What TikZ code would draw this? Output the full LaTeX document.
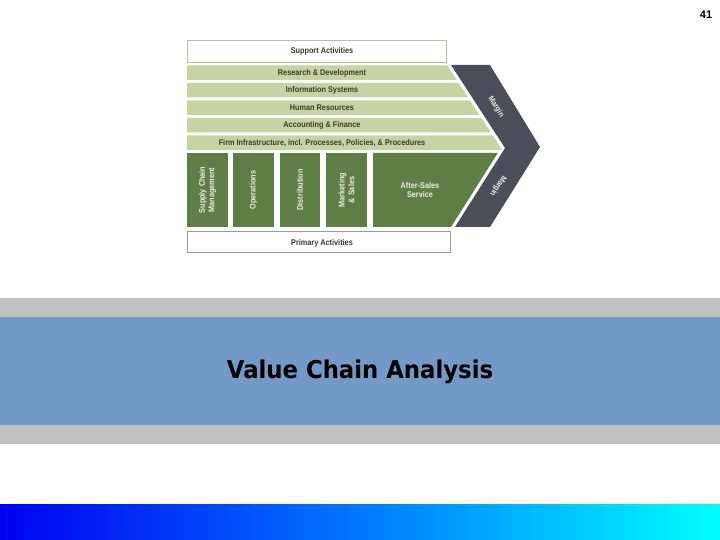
\documentclass[tikz,border=0pt]{standalone}
\usepackage{fontspec}
\setmainfont{Liberation Sans}
\newfontfamily\cond[FakeStretch=0.88]{Liberation Sans}
\newfontfamily\titlefont[FakeStretch=0.93]{DejaVu Sans}
\definecolor{lightg}{HTML}{C6D4A4}
\definecolor{darkg}{HTML}{5F7E45}
\definecolor{margc}{HTML}{4A4E58}
\definecolor{bandgrey}{HTML}{C0C0C0}
\definecolor{bandblue}{HTML}{7399C6}
\definecolor{lbltxt}{HTML}{3A3A30}
\definecolor{wtxt}{HTML}{EEEEE6}
\tikzset{
  sbar/.style={fill=lightg, draw=none},
  pbox/.style={fill=darkg, draw=none},
  slbl/.style={font=\cond\bfseries\fontsize{8.3}{9}\selectfont, text=lbltxt, inner sep=0pt},
  plbl/.style={font=\cond\bfseries\fontsize{8.3}{9.6}\selectfont, text=wtxt, inner sep=0pt, align=center},
  mlbl/.style={font=\cond\bfseries\fontsize{8}{9}\selectfont, text=wtxt, inner sep=0pt},
}
\begin{document}
\begin{tikzpicture}[x=1pt,y=-1pt]
\useasboundingbox (0,0) rectangle (720,540);
\fill[white] (0,0) rectangle (720,540);
% page number
\node[font=\bfseries\fontsize{11}{12}\selectfont, inner sep=0pt] (pnum) at (706,15) {41};
% support activities header
\draw[draw=lightg!80!gray, line width=0.8pt, fill=white] (187,40) rectangle (446,62);
\node[slbl] (supp) at (322,51) {Support Activities};
% support bars: right edge x = 447 + 0.65*(y-65)
\foreach \ya/\yb/\nm/\txt in {65.5/80/rd/Research \& Development, 83/97.5/is/Information Systems, 100.5/115/hr/Human Resources, 118/132.5/af/Accounting \& Finance, 135.5/150/fi/{Firm Infrastructure, incl. Processes, Policies, \& Procedures}}{
  \pgfmathsetmacro{\xa}{447+0.65*(\ya-65)}
  \pgfmathsetmacro{\xb}{447+0.65*(\yb-65)}
  \fill[lightg] (187,\ya) -- (\xa,\ya) -- (\xb,\yb) -- (187,\yb) -- cycle;
  \node[slbl] (\nm) at (322,{(\ya+\yb)/2+0.3}) {\txt};
}
% margin chevron
\fill[margc] (451,65) -- (490,65) -- (540,147) -- (490,227) -- (455,227) -- (505,148) -- cycle;
\node[mlbl, rotate=-57] (marg1) at (496,107) {Margin};
\node[mlbl, rotate=237] (marg2) at (498,186) {Margin};
% primary activity boxes
\fill[darkg] (187,153) rectangle (228,227);
\fill[darkg] (233,153) rectangle (274,227);
\fill[darkg] (280,153) rectangle (320,227);
\fill[darkg] (326,153) rectangle (367,227);
\fill[darkg] (373,153) -- (497.8,153) -- (451,227) -- (373,227) -- cycle;
\node[plbl, rotate=90] (scm) at (207.5,190) {Supply Chain\\Management};
\node[plbl, rotate=90] (ops) at (253.5,190) {Operations};
\node[plbl, rotate=90] (dist) at (300,190) {Distribution};
\node[plbl, rotate=90] (mkt) at (346.5,190) {Marketing\\\& Sales};
\node[plbl] (ass) at (420,190) {After-Sales\\Service};
% primary activities footer
\draw[draw=gray!80, line width=0.8pt, fill=white] (187,231) rectangle (450,252);
\node[slbl] (prim) at (322,243.5) {Primary Activities};
% title band
\fill[bandgrey] (0,298) rectangle (720,317);
\fill[bandblue] (0,317) rectangle (720,425);
\fill[bandgrey] (0,425) rectangle (720,444);
\node[font=\titlefont\bfseries\fontsize{24.5}{28}\selectfont, inner sep=0pt] (title) at (360,372) {Value Chain Analysis};
% gradient bar
\shade[left color={rgb,255:red,0;green,0;blue,240}, right color={rgb,255:red,0;green,255;blue,255}, middle color={rgb,255:red,0;green,120;blue,255}] (0,504) rectangle (720,540);
\end{tikzpicture}
\end{document}
